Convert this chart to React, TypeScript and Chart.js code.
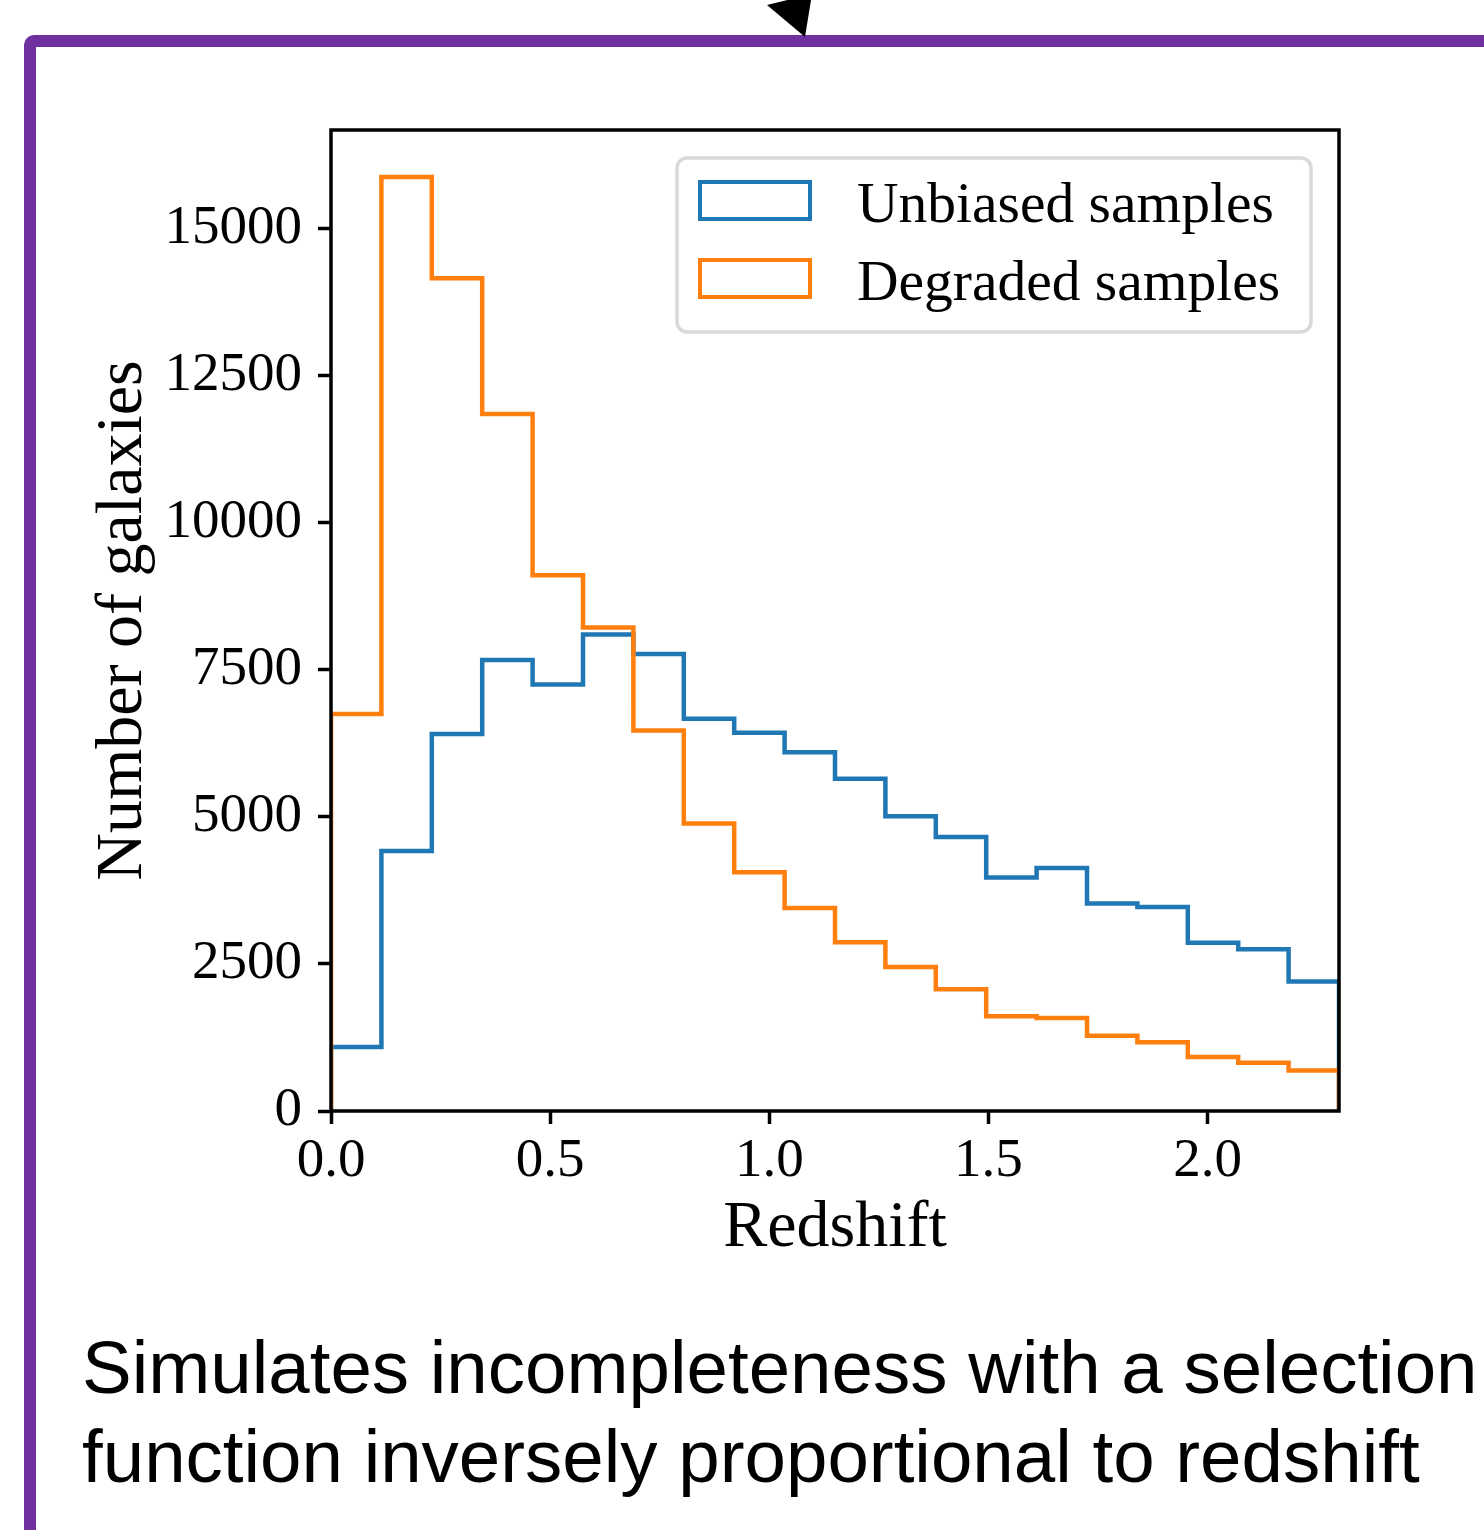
import React, { useEffect, useRef } from "react";
import { Chart, registerables } from "chart.js";

Chart.register(...registerables);

// Histogram bin edges (redshift)
const binEdges = [0, 0.115, 0.23, 0.345, 0.46, 0.575, 0.69, 0.805, 0.92, 1.035, 1.15, 1.265, 1.38, 1.495, 1.61, 1.725, 1.84, 1.955, 2.07, 2.185, 2.3];
// Counts per bin
const unbiasedCounts = [1090, 4420, 6410, 7670, 7250, 8100, 7770, 6670, 6430, 6100, 5650, 5010, 4660, 3970, 4130, 3530, 3470, 2860, 2750, 2200];
const degradedCounts = [6750, 15880, 14160, 11850, 9110, 8220, 6470, 4890, 4060, 3450, 2870, 2450, 2070, 1610, 1580, 1280, 1170, 920, 820, 690];
const seriesLabels = ["Unbiased samples", "Degraded samples"];
const xTicks = [0, 0.5, 1.0, 1.5, 2.0];
const yTicks = [0, 2500, 5000, 7500, 10000, 12500, 15000];
const xMax = 2.3;
const yMax = 16680;

const SERIF = "'Liberation Serif', 'Times New Roman', serif";
const BLUE = "#1f77b4";
const ORANGE = "#ff7f0e";

function stepPoints(counts: number[]) {
  const pts: { x: number; y: number }[] = [{ x: binEdges[0], y: 0 }];
  counts.forEach((c, i) => pts.push({ x: binEdges[i], y: c }));
  pts.push({ x: binEdges[binEdges.length - 1], y: 0 });
  return pts;
}

const framePlugin = {
  id: "frameAndLegend",
  afterDatasetsDraw(chart: any) {
    const { ctx, chartArea: a } = chart;
    ctx.save();
    // legend
    const lw = 634, lh = 174;
    const lx = a.right - 28 - lw;
    const ly = a.top + 28;
    const r = 10;
    ctx.beginPath();
    ctx.moveTo(lx + r, ly);
    ctx.arcTo(lx + lw, ly, lx + lw, ly + lh, r);
    ctx.arcTo(lx + lw, ly + lh, lx, ly + lh, r);
    ctx.arcTo(lx, ly + lh, lx, ly, r);
    ctx.arcTo(lx, ly, lx + lw, ly, r);
    ctx.closePath();
    ctx.fillStyle = "rgba(255,255,255,0.85)";
    ctx.fill();
    ctx.lineWidth = 3.5;
    ctx.strokeStyle = "#d9d9d9";
    ctx.stroke();
    const colors = [BLUE, ORANGE];
    ctx.font = `57.5px ${SERIF}`;
    ctx.textBaseline = "alphabetic";
    ctx.textAlign = "left";
    seriesLabels.forEach((lab, i) => {
      const rowY = ly + 42 + i * 78;
      ctx.lineWidth = 4;
      ctx.strokeStyle = colors[i];
      ctx.strokeRect(lx + 23, rowY - 18, 110, 37);
      ctx.fillStyle = "#000";
      ctx.fillText(lab, lx + 180, rowY + 22);
    });
    // frame
    ctx.lineWidth = 3.5;
    ctx.strokeStyle = "#000";
    ctx.strokeRect(a.left, a.top, a.right - a.left, a.bottom - a.top);
    ctx.restore();
  },
};

export default function App() {
  const ref = useRef<HTMLCanvasElement | null>(null);
  useEffect(() => {
    if (!ref.current) return;
    const chart = new Chart(ref.current, {
      type: "line",
      data: {
        datasets: [
          {
            label: seriesLabels[0],
            data: stepPoints(unbiasedCounts),
            borderColor: BLUE,
            borderWidth: 4.5,
            stepped: "before",
            pointRadius: 0,
            fill: false,
            order: 2,
          },
          {
            label: seriesLabels[1],
            data: stepPoints(degradedCounts),
            borderColor: ORANGE,
            borderWidth: 4.5,
            stepped: "before",
            pointRadius: 0,
            fill: false,
            order: 1,
          },
        ],
      },
      options: {
        animation: false,
        responsive: false,
        devicePixelRatio: 1,
        layout: { padding: { left: 0, top: 130, right: 145, bottom: 0 } },
        plugins: { legend: { display: false }, tooltip: { enabled: false } },
        scales: {
          x: {
            type: "linear",
            min: 0,
            max: xMax,
            afterFit: (s: any) => { s.height = 189; },
            afterBuildTicks: (s: any) => { s.ticks = xTicks.map((v) => ({ value: v })); },
            border: { display: false },
            grid: { display: true, drawOnChartArea: false, drawTicks: true, tickLength: 13, tickWidth: 3.5, tickColor: "#000" },
            ticks: {
              color: "#000",
              padding: 5,
              font: { family: SERIF, size: 55 },
              callback: (v: any) => Number(v).toFixed(1),
              maxRotation: 0,
              autoSkip: false,
            },
            title: {
              display: true,
              text: "Redshift",
              color: "#000",
              font: { family: SERIF, size: 66 },
              padding: { top: 0, bottom: 32 },
            },
          },
          y: {
            type: "linear",
            min: 0,
            max: yMax,
            afterFit: (s: any) => { s.width = 331; },
            afterBuildTicks: (s: any) => { s.ticks = yTicks.map((v) => ({ value: v })); },
            border: { display: false },
            grid: { display: true, drawOnChartArea: false, drawTicks: true, tickLength: 13, tickWidth: 3.5, tickColor: "#000" },
            ticks: {
              color: "#000",
              padding: 16,
              font: { family: SERIF, size: 55 },
              callback: (v: any) => String(v),
              autoSkip: false,
            },
            title: {
              display: true,
              text: "Number of galaxies",
              color: "#000",
              font: { family: SERIF, size: 66 },
              padding: { top: 84, bottom: 0 },
            },
          },
        },
      },
      plugins: [framePlugin],
    } as any);
    return () => chart.destroy();
  }, []);

  return (
    <div style={{ position: "absolute", left: 0, top: 0, width: 1484, height: 1530, overflow: "hidden", background: "#fff" }}>
      <div
        style={{
          position: "absolute",
          left: 24,
          top: 35,
          width: 1600,
          height: 1700,
          border: "12px solid #7030a0",
          borderRadius: 10,
          boxSizing: "border-box",
        }}
      />
      <svg width={1484} height={60} style={{ position: "absolute", left: 0, top: 0 }}>
        <polygon points="767,5 812,-6 805,37" fill="#000" />
      </svg>
      <canvas ref={ref} width={1484} height={1300} style={{ position: "absolute", left: 0, top: 0, width: 1484, height: 1300 }} />
      <div
        style={{
          position: "absolute",
          left: 82,
          top: 1323,
          fontFamily: "'Liberation Sans', Arial, sans-serif",
          fontSize: 74.5,
          lineHeight: "89px",
          color: "#000",
          whiteSpace: "nowrap",
        }}
      >
        Simulates incompleteness with a selection
        <br />
        function inversely proportional to redshift
      </div>
    </div>
  );
}
